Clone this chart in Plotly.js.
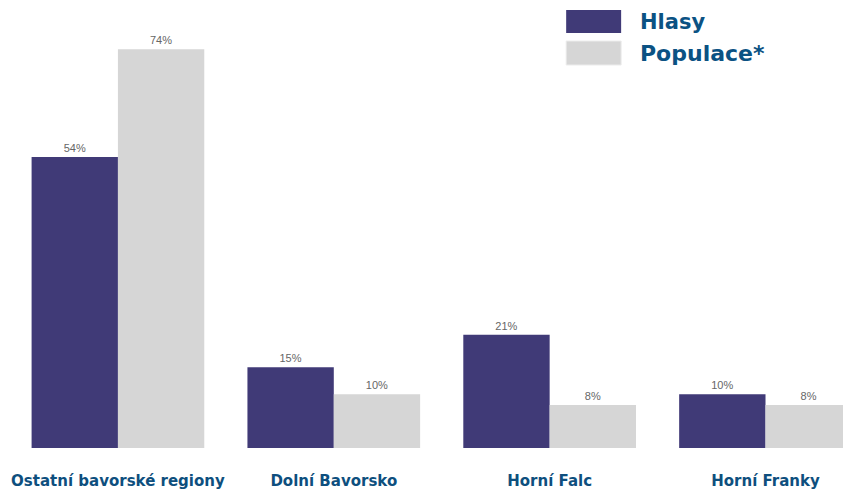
<!DOCTYPE html>
<html>
<head>
<meta charset="utf-8">
<script src="https://cdn.plot.ly/plotly-3.0.1.min.js"></script>
<style>html,body{margin:0;padding:0;background:#fff;}#chart{width:843px;height:489px;}</style>
</head>
<body>
<div id="chart"></div>
<script>
var categories = ["Ostatní bavorské regiony", "Dolní Bavorsko", "Horní Falc", "Horní Franky"];
var seriesNames = ["Hlasy", "Populace*"];
var hlasy = [54, 15, 21, 10];
var populace = [74, 10, 8, 8];
var colors = ["#403a77", "#d6d6d6"];

function pct(arr){ return arr.map(function(v){ return v + "%"; }); }

var traces = [hlasy, populace].map(function(vals, i){
  return {
    type: "bar",
    name: seriesNames[i],
    x: categories,
    y: vals,
    text: pct(vals),
    textposition: "outside",
    cliponaxis: false,
    textfont: {family: "Liberation Sans, Arial, sans-serif", size: 11, color: "#666666"},
    marker: {color: colors[i]},
    showlegend: false,
    hoverinfo: "skip"
  };
});

var legendColor = "#0b5283";
var lblFont = "DejaVu Sans, sans-serif";
var layout = {
  width: 843, height: 489,
  margin: {l: 9.5, r: 0, t: 17, b: 41},
  paper_bgcolor: "#ffffff",
  plot_bgcolor: "#ffffff",
  barmode: "group",
  bargap: 0.2,
  bargroupgap: 0,
  font: {family: lblFont},
  xaxis: {
    type: "category",
    range: [-0.5, 3.359],
    showgrid: false, zeroline: false, showline: false,
    ticks: "outside", ticklen: 19, tickcolor: "rgba(0,0,0,0)",
    tickfont: {family: lblFont, size: 15, color: "#0e4f7e", weight: "bold"},
    fixedrange: true
  },
  yaxis: {
    range: [0, 80],
    showgrid: false, zeroline: false, showline: false,
    showticklabels: false, ticks: "",
    fixedrange: true
  },
  shapes: [
    {type: "rect", xref: "paper", yref: "paper",
     x0: (566 - 9.5) / 833.5, x1: (621 - 9.5) / 833.5,
     y0: (448 - 33) / 431, y1: (448 - 10) / 431,
     fillcolor: colors[0], line: {width: 0}},
    {type: "rect", xref: "paper", yref: "paper",
     x0: (566 - 9.5) / 833.5, x1: (621 - 9.5) / 833.5,
     y0: (448 - 65) / 431, y1: (448 - 41) / 431,
     fillcolor: colors[1], line: {width: 1, color: "#ececec"}}
  ],
  annotations: [
    {xref: "paper", yref: "paper", x: (638 - 9.5) / 833.5, y: (448 - 21.5) / 431,
     xanchor: "left", yanchor: "middle", showarrow: false, text: seriesNames[0],
     font: {family: lblFont, size: 21, color: legendColor, weight: "bold"}},
    {xref: "paper", yref: "paper", x: (638 - 9.5) / 833.5, y: (448 - 53) / 431,
     xanchor: "left", yanchor: "middle", showarrow: false, text: seriesNames[1],
     font: {family: lblFont, size: 22, color: legendColor, weight: "bold"}}
  ]
};

Plotly.newPlot("chart", traces, layout, {displayModeBar: false, staticPlot: true});
</script>
</body>
</html>
